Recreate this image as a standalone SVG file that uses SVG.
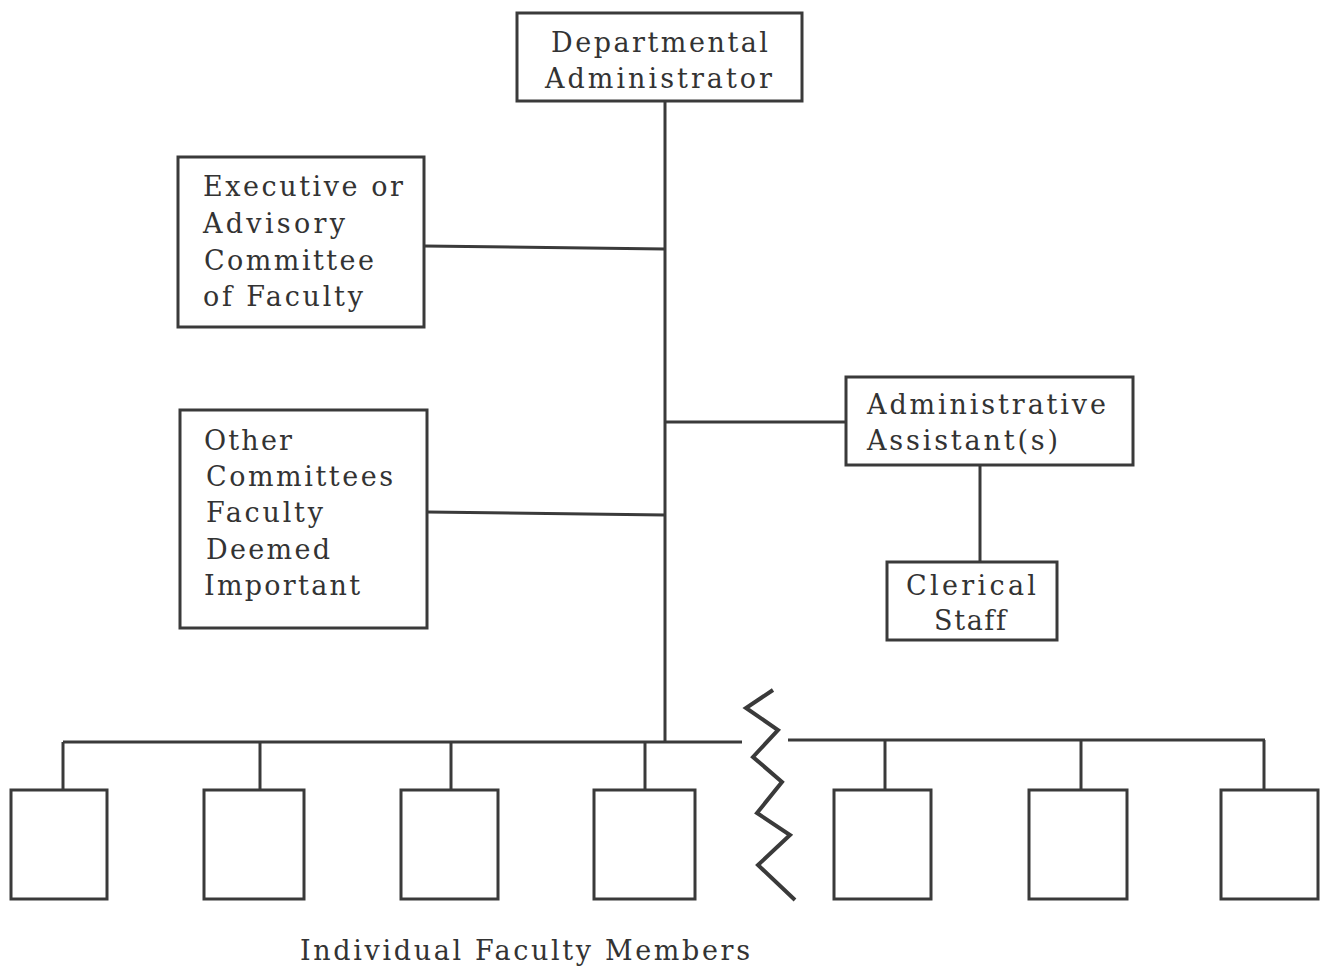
<svg xmlns="http://www.w3.org/2000/svg" width="1322" height="968" viewBox="0 0 1322 968">
<style>
.box{fill:none;stroke:#3a3a3a;stroke-width:3}
.ln{fill:none;stroke:#3a3a3a;stroke-width:3}
.zz{fill:none;stroke:#3a3a3a;stroke-width:4;stroke-linejoin:miter}
text{font-family:"DejaVu Serif","Liberation Serif",serif;font-size:27px;fill:#333;font-variant-ligatures:none}
</style>
<rect width="1322" height="968" fill="#fff"/>
<g id="connectors">
<line class="ln" x1="665" y1="101" x2="665" y2="742"/>
<line class="ln" x1="424" y1="246" x2="665" y2="249"/>
<line class="ln" x1="427" y1="512" x2="665" y2="515"/>
<line class="ln" x1="665" y1="422" x2="846" y2="422"/>
<line class="ln" x1="980" y1="465" x2="980" y2="562"/>
<line class="ln" x1="63" y1="742" x2="742" y2="742"/>
<line class="ln" x1="788" y1="740" x2="1265" y2="740"/>
<line class="ln" x1="63" y1="742" x2="63" y2="790"/>
<line class="ln" x1="260" y1="742" x2="260" y2="790"/>
<line class="ln" x1="451" y1="742" x2="451" y2="790"/>
<line class="ln" x1="645" y1="742" x2="645" y2="790"/>
<line class="ln" x1="885" y1="740" x2="885" y2="790"/>
<line class="ln" x1="1081" y1="740" x2="1081" y2="790"/>
<line class="ln" x1="1264" y1="740" x2="1264" y2="790"/>
<polyline class="zz" points="773,690 746,708 778,730 753,757 782,782 757,813 790,835 758,865 795,900"/>
</g>
<g id="dept-admin">
<rect class="box" x="517" y="13" width="285" height="88"/>
<text x="551" y="52" textLength="217" lengthAdjust="spacing">Departmental</text>
<text x="545" y="88" textLength="227" lengthAdjust="spacing">Administrator</text>
</g>
<g id="exec-committee">
<rect class="box" x="178" y="157" width="246" height="170"/>
<text x="203" y="196" textLength="200" lengthAdjust="spacing">Executive or</text>
<text x="203" y="233" textLength="142" lengthAdjust="spacing">Advisory</text>
<text x="204" y="270" textLength="170" lengthAdjust="spacing">Committee</text>
<text x="203" y="306" textLength="160" lengthAdjust="spacing">of Faculty</text>
</g>
<g id="other-committees">
<rect class="box" x="180" y="410" width="247" height="218"/>
<text x="204" y="450" textLength="88" lengthAdjust="spacing">Other</text>
<text x="206" y="486" textLength="187" lengthAdjust="spacing">Committees</text>
<text x="206" y="522" textLength="117" lengthAdjust="spacing">Faculty</text>
<text x="206" y="559" textLength="124" lengthAdjust="spacing">Deemed</text>
<text x="204" y="595" textLength="156" lengthAdjust="spacing">Important</text>
</g>
<g id="admin-assistant">
<rect class="box" x="846" y="377" width="287" height="88"/>
<text x="867" y="414" textLength="239" lengthAdjust="spacing">Administrative</text>
<text x="867" y="450" textLength="191" lengthAdjust="spacing">Assistant(s)</text>
</g>
<g id="clerical-staff">
<rect class="box" x="887" y="562" width="170" height="78"/>
<text x="906" y="595" textLength="130" lengthAdjust="spacing">Clerical</text>
<text x="934" y="630" textLength="72" lengthAdjust="spacing">Staff</text>
</g>
<g id="faculty-1"><rect class="box" x="11" y="790" width="96" height="109"/></g>
<g id="faculty-2"><rect class="box" x="204" y="790" width="100" height="109"/></g>
<g id="faculty-3"><rect class="box" x="401" y="790" width="97" height="109"/></g>
<g id="faculty-4"><rect class="box" x="594" y="790" width="101" height="109"/></g>
<g id="faculty-5"><rect class="box" x="834" y="790" width="97" height="109"/></g>
<g id="faculty-6"><rect class="box" x="1029" y="790" width="98" height="109"/></g>
<g id="faculty-7"><rect class="box" x="1221" y="790" width="97" height="109"/></g>
<g id="label">
<text x="300" y="960" textLength="450" lengthAdjust="spacing">Individual Faculty Members</text>
</g>
</svg>
